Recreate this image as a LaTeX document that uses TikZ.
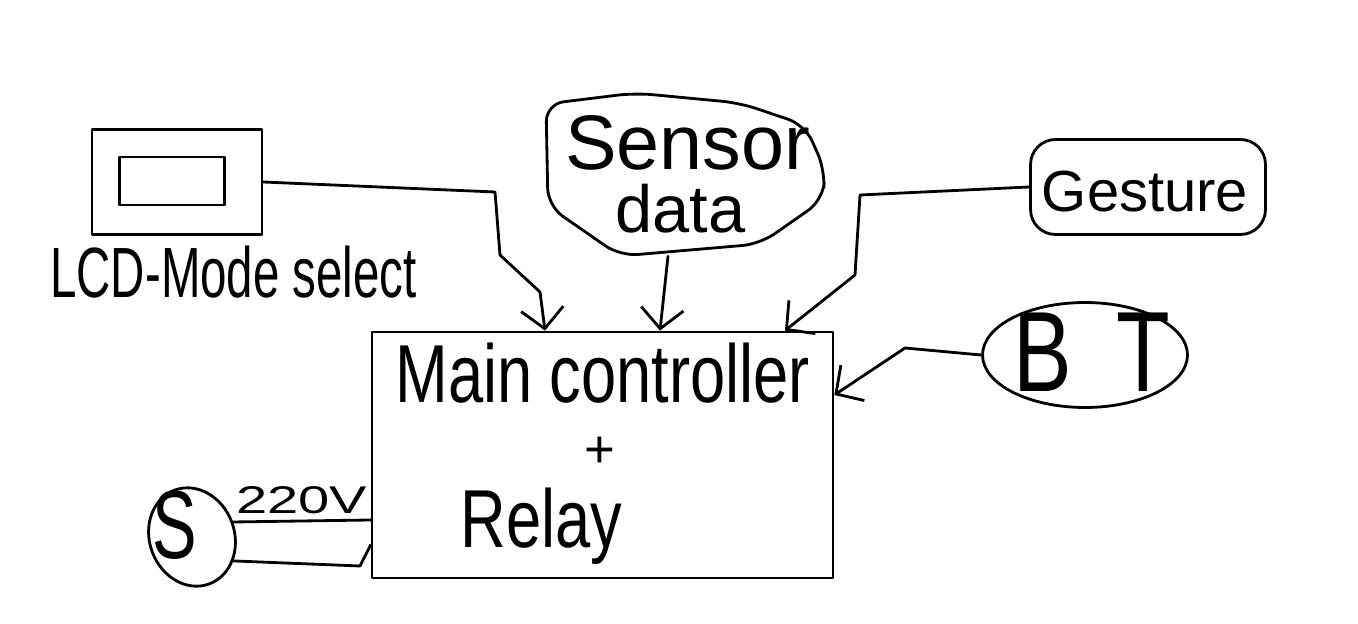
\documentclass[tikz,border=0pt]{standalone}
\usepackage{fontspec}
\setmainfont{Liberation Sans}
\usepackage{graphicx}
\usetikzlibrary{arrows.meta,shapes.geometric}
\tikzset{
  ink/.style={line width=1.6pt, line join=round, line cap=round},
  box/.style={ink, draw, inner sep=0pt},
  link/.style={ink, -{Straight Barb[length=0.4cm,width=0.85cm,line width=1.6pt]}},
  wire/.style={ink},
  lbl/.style={inner sep=0pt},
}
\newcommand{\hw}[4]{\fontsize{#1}{#1}\selectfont\scalebox{#2}[#3]{#4}}
\begin{document}
\begin{tikzpicture}[x=0.02cm,y=-0.02cm]
\useasboundingbox (0,0) rectangle (1358,624);

% LCD
\node[box, minimum width=3.4cm, minimum height=2.1cm] (lcd) at (177,182) {};
\node[box, minimum width=2.1cm, minimum height=0.96cm] (screen) at (172,181) {};
\node[lbl, anchor=base west] (lcdlabel) at (50,298) {\hw{27pt}{1}{1.5}{LCD-Mode select}};

% Sensor data
\node[minimum width=5.6cm, minimum height=3.26cm, inner sep=0pt] (sensor) at (686,174.5) {};
\draw[ink, rounded corners=10pt] (546,104) -- (635,93) -- (740,103) -- (805,125) -- (825,170) -- (823,200) -- (760,244) -- (620,256) -- (548,206) -- cycle;
\node[lbl, anchor=base west] (sensortxt) at (565,170) {\hw{40pt}{1.1}{1.1}{Sensor}};
\node[lbl, anchor=base west] (datatxt) at (615,233) {\hw{38pt}{1}{1}{data}};

% Gesture
\node[box, rounded corners=0.5cm, minimum width=4.7cm, minimum height=1.9cm] (gesture) at (1148,187) {};
\node[lbl, anchor=base] (gesturetxt) at (1145,212) {\hw{33pt}{1}{1}{Gesture}};

% BT
\node[box, ellipse, minimum width=4.1cm, minimum height=2.1cm] (bt) at (1085,355) {};
\node[lbl] (bttxt) at (1092,352) {\hw{50pt}{1}{1.3}{B\hspace{0.9cm}T}};

% Main controller
\node[box, minimum width=9.22cm, minimum height=4.92cm] (main) at (602.5,455) {};
\node[lbl, anchor=base west] (maintxt) at (395,402) {\hw{36pt}{1}{1.3}{Main controller}};
\node[lbl] (plustxt) at (600,452) {\hw{30pt}{1}{1}{+}};
\node[lbl, anchor=base west] (relaytxt) at (460,547) {\hw{36pt}{1}{1.3}{Relay}};

% S
\node[box, ellipse, minimum width=1.7cm, minimum height=2cm, rotate=20] (s) at (192,537) {};
\node[lbl] (stxt) at (175,525) {\hw{38pt}{1}{1.45}{S}};

% connectors
\draw[link] (lcd.east) -- (495,192) -- (500,255) -- (540,292) -- ([xshift=-1.15cm]main.north);
\draw[link] ([xshift=-0.36cm]sensor.south) -- ([xshift=1.15cm]main.north);
\draw[link] (gesture.west) -- (860,195) -- (855,275) -- ([xshift=3.65cm]main.north);
\draw[link] (bt.west) -- (905,348) -- ([yshift=1.2cm]main.east);
\draw[wire] (s.east) -- node[midway, above=3pt, lbl] (v220) {\hw{22pt}{1.45}{1}{220V}} ([yshift=-1.3cm]main.west);
\draw[wire] (s.-50) -- (360,566) -- ([yshift=-1.8cm]main.west);
\end{tikzpicture}
\end{document}
